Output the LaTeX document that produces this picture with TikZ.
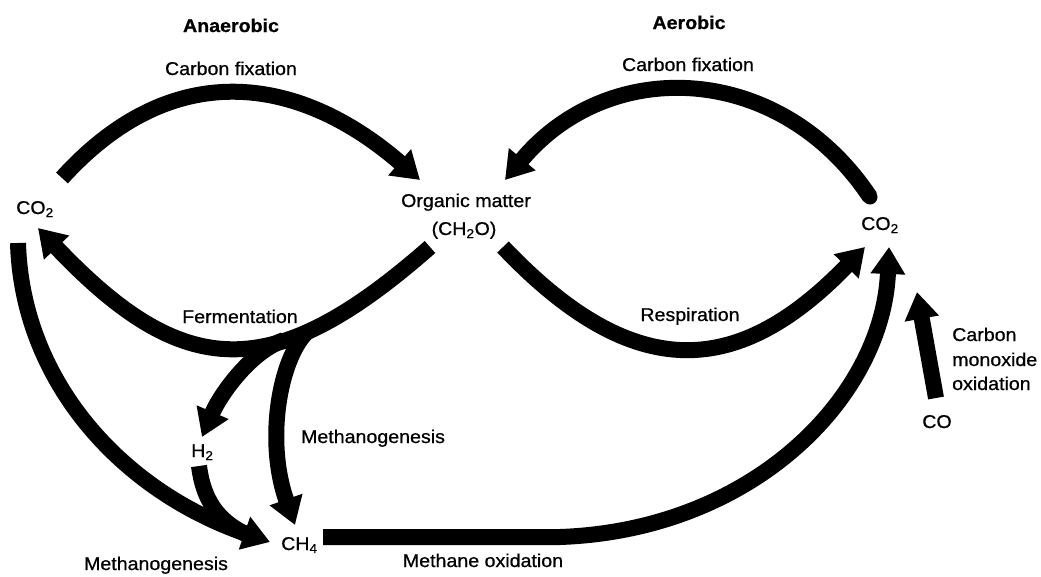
\documentclass[tikz,border=0pt]{standalone}
\usepackage{fontspec}
\setmainfont{Liberation Sans}[FakeStretch=1.06,FakeBold=0.7]
\usetikzlibrary{arrows.meta}
\newcommand{\lblsize}{\fontsize{18.5}{22}\selectfont}
\begin{document}
\begin{tikzpicture}[x=1pt,y=-1pt,
  lbl/.style={inner sep=0pt, anchor=base, font=\lblsize},
  lblw/.style={lbl, anchor=base west},
  title/.style={lbl, font=\lblsize\bfseries},
  band/.style={draw=black, line width=16pt},
  flow/.style={band, -{Triangle[width=33pt,length=27pt]}},
]
\useasboundingbox (0,0) rectangle (1041,576);

% ---- labels ----
\node[title] (anaer) at (231,32) {Anaerobic};
\node[title] (aer)   at (689,29) {Aerobic};
\node[lbl] (fixL) at (231,75) {Carbon fixation};
\node[lbl] (fixR) at (688,71) {Carbon fixation};
\node[lblw] (co2L) at (16,214) {CO\textsubscript{2}};
\node[lbl] (org) at (466,207) {Organic matter};
\node[lbl] (orgf) at (464,235) {(CH\textsubscript{2}O)};
\node[lblw] (co2R) at (861,230) {CO\textsubscript{2}};
\node[lbl] (ferm) at (240,323) {Fermentation};
\node[lbl] (resp) at (690,321) {Respiration};
\node[lbl] (mgMid) at (373,443) {Methanogenesis};
\node[lblw] (h2) at (191,457) {H\textsubscript{2}};
\node[lblw] (ch4) at (281,550) {CH\textsubscript{4}};
\node[lbl] (mgLow) at (156,570) {Methanogenesis};
\node[lbl] (mox) at (483,567) {Methane oxidation};
\node[lblw] (cmo1) at (952,341) {Carbon};
\node[lblw] (cmo2) at (952,366) {monoxide};
\node[lblw] (cmo3) at (952,390) {oxidation};
\node[lbl] (co) at (937,428) {CO};

% ---- connector end points ----
\coordinate (fixLtail) at (62,178);
\coordinate (fixLtip)  at (420,180);
\coordinate (fixRtail) at (870,197);
\coordinate (fixRtip)  at (505,180);
\coordinate (fermTail) at (430,247);
\coordinate (fermTip)  at (38,228);
\coordinate (respTail) at (503,247);
\coordinate (respTip)  at (865,247);
\coordinate (hTail)    at (284,340);
\coordinate (hTip)     at (202,437);
\coordinate (mTail)    at (306,333);
\coordinate (mTip)     at (295,525);
\coordinate (h2Tail)   at (199,466);
\coordinate (h2Join)   at (252,537);
\coordinate (lTail)    at (18,243);
\coordinate (lTip)     at (270,542);
\coordinate (oxTail)   at (323,537);
\coordinate (oxBend)   at (560,537);
\coordinate (oxTip)    at (889,247);
\coordinate (coTail)   at (936,398);
\coordinate (coTip)    at (917,292);

% ---- anaerobic cycle ----
\draw[flow] (fixLtail) .. controls (177,51) and (305,80) .. (fixLtip);
\draw[flow] (fermTail) .. controls (272,386) and (183,381) .. (fermTip);
\draw[flow] (hTail) .. controls (250,352) and (220,395) .. (hTip);
\draw[flow] (mTail) .. controls (280,360) and (265,440) .. (mTip);
\draw[band] (h2Tail) .. controls (204,505) and (222,524) .. (h2Join);
\draw[flow] (lTail) .. controls (22,380) and (120,490) .. (lTip);

% ---- aerobic cycle ----
\draw[flow] (fixRtail) .. controls (780,62) and (609,55) .. (fixRtip);
\fill (fixRtail) circle (7.5pt);
\draw[flow] (respTail) .. controls (636,387) and (740,376) .. (respTip);
\draw[flow] (oxTail) -- (oxBend) .. controls (755,530) and (883,395) .. (oxTip);
\draw[flow] (coTail) -- (coTip);
\end{tikzpicture}
\end{document}
